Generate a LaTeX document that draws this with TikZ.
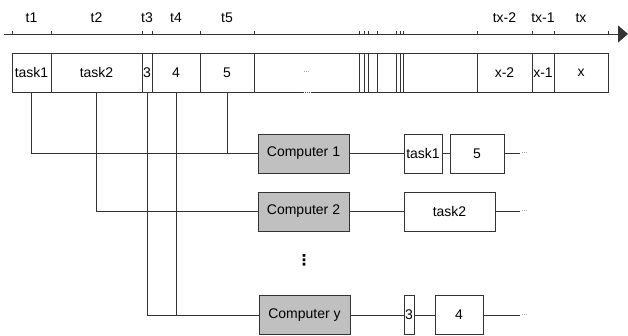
\documentclass[tikz,border=0pt]{standalone}
\usepackage{fontspec}
\setmainfont{Liberation Sans}
\newfontfamily\symfont{DejaVu Sans}
\usetikzlibrary{positioning,arrows.meta}
\definecolor{boxLine}{HTML}{333333}
\definecolor{compFill}{HTML}{C0C0C0}
\definecolor{dotGray}{HTML}{555555}
\tikzset{
  cell/.style={draw=boxLine, line width=1pt, minimum height=39pt, inner sep=0pt},
  compbox/.style={cell, fill=compFill, minimum width=91pt},
  tlabel/.style={inner sep=0pt},
  link/.style={draw=boxLine, line width=1pt},
  enddots/.style={inner sep=1.5pt, font=\scriptsize, text=dotGray},
}

\begin{document}
\begin{tikzpicture}[x=1pt, y=-1pt, font=\fontsize{14}{16}\selectfont]
\useasboundingbox (0,0) rectangle (628,335);
% time axis
\coordinate (ax0) at (4,34);
\coordinate (ax1) at (628,34);
\draw[link, -{Triangle[length=10pt, width=17pt]}] (ax0) -- (ax1);
\foreach \x in {12,51,142,152,200,254,359,364,368,377,396,400,403,477,532,554,608}
  \draw[link] (\x,34) -- (\x,31);
% task bar
\node[cell, minimum width=39pt] (c1) at (31.5,72.5) {task1};
\node[cell, minimum width=91pt] (c2) at (96.5,72.5) {task2};
\node[cell, minimum width=10pt] (c3) at (147,72.5) {3};
\node[cell, minimum width=48pt] (c4) at (176,72.5) {4};
\node[cell, minimum width=54pt] (c5) at (227,72.5) {5};
\node[cell, minimum width=105pt, font=\scriptsize, text=dotGray] (cdots) at (306.5,72.5) {...};
\foreach \a/\b in {359/364,364/368,368/377,377/396,396/400,400/403,403/477}
  \node[cell, minimum width={\b-\a}] (g\a) at ({(\a+\b)/2},72.5) {};
\node[cell, minimum width=55pt] (cx2) at (504.5,72.5) {x-2};
\node[cell, minimum width=22pt] (cx1) at (543,72.5) {x-1};
\node[cell, minimum width=54pt] (cx) at (581,72.5) {x};
\draw[white, line width=1.2pt, dash pattern=on 1pt off 1pt] ([xshift=-3pt]cdots.north) -- ++(8,0);
\draw[white, line width=1.2pt, dash pattern=on 1pt off 1pt] ([xshift=-3pt]cdots.south) -- ++(8,0);
% time labels
\node[tlabel] (t1) at (c1 |- 0,18) {t1};
\node[tlabel] (t2) at (c2 |- 0,18) {t2};
\node[tlabel] (t3) at (c3 |- 0,18) {t3};
\node[tlabel] (t4) at (c4 |- 0,18) {t4};
\node[tlabel] (t5) at (c5 |- 0,18) {t5};
\node[tlabel] (tx2) at (cx2 |- 0,18) {tx-2};
\node[tlabel] (tx1) at (cx1 |- 0,18) {tx-1};
\node[tlabel] (tx) at (cx |- 0,18) {tx};
% computers
\node[compbox] (comp1) at (303.5,153.5) {Computer 1};
\node[compbox] (comp2) at (303.5,211.5) {Computer 2};
\node[compbox] (compy) at (304.5,315) {Computer y};
\node[font=\symfont\bfseries\fontsize{15}{16}\selectfont] (vdots) at (304,260) {⋮};
% assignment
\draw[link] (c1.south) |- (comp1.west);
\draw[link] (c5.south) |- (comp1.west);
\draw[link] (c2.south) |- (comp2.west);
\draw[link] (c3.south) |- (compy.west);
\draw[link] (c4.south) |- (compy.west);
% queues
\node[cell, minimum width=38pt] (r1a) at (423,153.5) {task1};
\node[cell, minimum width=54pt] (r1b) at (477,153.5) {5};
\node[enddots, anchor=west] (e1) at (520,153.5) {...};
\node[cell, minimum width=91pt] (r2a) at (449.5,211.5) {task2};
\node[enddots, anchor=west] (e2) at (520,211.5) {...};
\node[cell, minimum width=10pt] (r3a) at (409,315) {3};
\node[cell, minimum width=48pt] (r3b) at (459,315) {4};
\node[enddots, anchor=west] (e3) at (520,315) {...};
\draw[link] (comp1) -- (r1a) -- (r1b) -- (e1);
\draw[link] (comp2) -- (r2a) -- (e2);
\draw[link] (compy) -- (r3a) -- (r3b) -- (e3);
\end{tikzpicture}
\end{document}
